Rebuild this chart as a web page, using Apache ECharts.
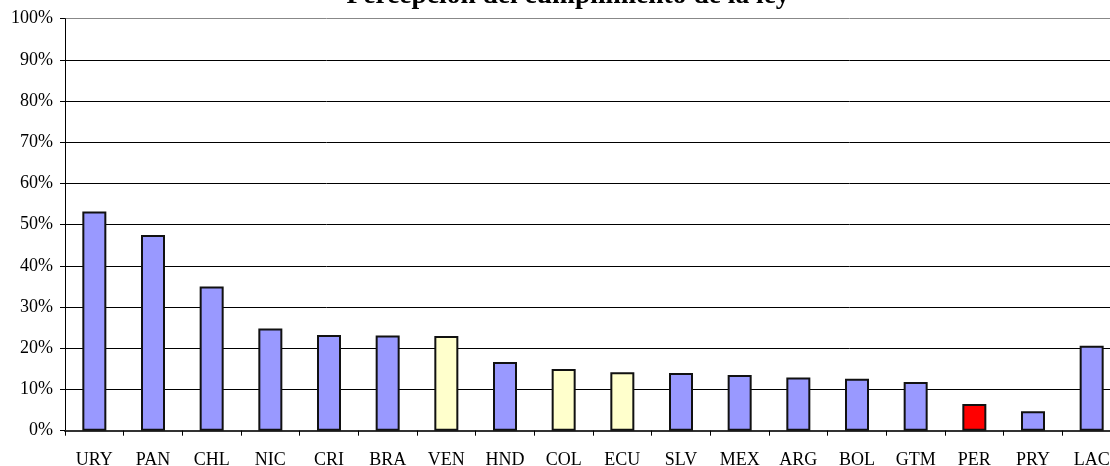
<!DOCTYPE html>
<html>
<head>
<meta charset="utf-8">
<script src="https://cdn.jsdelivr.net/npm/echarts@6/dist/echarts.min.js"></script>
<style>
html,body{margin:0;padding:0;background:#fff;}
#chart{width:1110px;height:466px;}
</style>
</head>
<body>
<div id="chart"></div>
<script>
const title = 'Percepción del cumplimiento de la ley';
const categories = ['URY','PAN','CHL','NIC','CRI','BRA','VEN','HND','COL','ECU','SLV','MEX','ARG','BOL','GTM','PER','PRY','LAC'];
const values = [0.532, 0.475, 0.350, 0.248, 0.232, 0.231, 0.230, 0.167, 0.150, 0.142, 0.140, 0.135, 0.129, 0.126, 0.118, 0.065, 0.047, 0.206];
const yellowGroup = ['VEN','COL','ECU'];
const redGroup = ['PER'];
const yTicks = [0, 0.1, 0.2, 0.3, 0.4, 0.5, 0.6, 0.7, 0.8, 0.9, 1.0];

const BLUE = '#9999FF', YELLOW = '#FFFFCC', RED = '#FF0000';
const FONT = '"Liberation Serif", "Times New Roman", serif';
const gridColors = yTicks.map((t, i) => i === yTicks.length - 1 ? '#888' : '#000');

const chart = echarts.init(document.getElementById('chart'), null, {renderer: 'canvas'});
chart.setOption({
  animation: false,
  backgroundColor: '#fff',
  title: {
    text: title,
    left: 563,
    textAlign: 'center',
    top: -23,
    textStyle: {fontFamily: FONT, fontWeight: 'bold', fontSize: 27.5, color: '#000'}
  },
  grid: {left: 65, top: 18.7, width: 1056, bottom: 35.3, containLabel: false, outerBoundsMode: 'none'},
  xAxis: {
    type: 'category',
    data: categories,
    boundaryGap: true,
    axisLine: {lineStyle: {color: '#333', width: 2}},
    axisTick: {show: true, length: 5, inside: false, lineStyle: {color: '#000', width: 1}},
    axisLabel: {fontFamily: FONT, fontSize: 18, color: '#000', margin: 21, interval: 0},
    splitLine: {show: false}
  },
  yAxis: {
    type: 'value',
    min: 0, max: 1, interval: 0.1,
    axisLine: {show: true, lineStyle: {color: '#000', width: 1}},
    axisTick: {show: true, length: 5, lineStyle: {color: '#000'}},
    axisLabel: {fontFamily: FONT, fontSize: 18, color: '#000', margin: 12,
      formatter: v => Math.round(v * 100) + '%'},
    splitLine: {show: true, lineStyle: {color: gridColors, width: 1}}
  },
  series: [{
    type: 'bar',
    barWidth: 24,
    data: values.map((v, i) => {
      const c = categories[i];
      const color = redGroup.includes(c) ? RED : (yellowGroup.includes(c) ? YELLOW : BLUE);
      return {value: v, itemStyle: {color: color, borderColor: '#111', borderWidth: 2}};
    })
  }]
});
</script>
</body>
</html>
